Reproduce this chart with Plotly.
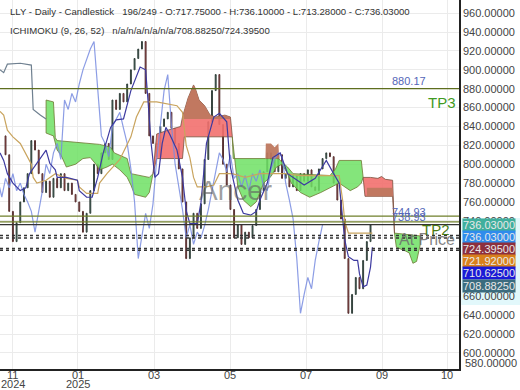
import plotly.graph_objects as go

# ---------------- data (bar index on x, price on y) ----------------
CANDLE_X = list(range(3, 203, 2))
CLOSE = [810, 750, 718, 738, 760, 775, 790, 825, 815, 790,
         770, 782, 765, 785, 775, 790, 772, 780, 768, 760,
         750, 728, 748, 772, 800, 790, 812, 822, 805, 868,
         858, 875, 866, 885, 900, 912, 922, 930, 875, 830,
         822, 808, 840, 848, 855, 838, 822, 795, 760, 700,
         722, 748, 732, 758, 805, 845, 878, 895, 842, 800,
         778, 752, 722, 736, 715, 728, 722, 735, 752, 772,
         792, 812, 805, 792, 810, 785, 790, 776, 788, 772,
         790, 782, 794, 776, 772, 795, 806, 812, 808, 780,
         762, 742, 700, 642, 662, 680, 668, 698, 718, 736]
FIRST_OPEN = 830

TENKAN_X = [0, 2, 4, 7, 11, 14, 16, 20, 22, 25, 27, 30, 31, 36, 42, 43, 47, 50, 53, 56,
            60, 63, 67, 71, 76, 79, 80, 82, 84, 86, 88, 90, 92, 96, 99, 101, 103, 107, 109, 112,
            116, 119, 123, 125, 129, 132, 136, 139, 141, 145, 148, 152, 156, 160, 165, 171, 177, 181, 184, 187,
            189, 192, 194, 195, 197, 199, 201, 202]
TENKAN_Y = [812, 804, 790, 780, 772, 775, 790, 801, 807, 815, 801, 794, 786, 786, 783, 772, 765, 765, 786, 812,
            839, 847, 848, 878, 903, 900, 875, 822, 786, 790, 822, 839, 832, 815, 786, 751, 737, 737, 759, 822,
            850, 854, 845, 797, 762, 748, 746, 750, 762, 780, 807, 812, 790, 785, 778, 785, 804, 790, 780, 720,
            702, 698, 698, 684, 670, 672, 691, 712]

KIJUN_X = [0, 2, 4, 7, 11, 15, 17, 18, 20, 25, 30, 36, 42, 43, 47, 53, 54, 58, 65, 71,
           74, 78, 85, 96, 99, 101, 103, 105, 107, 112, 116, 119, 126, 133, 141, 149, 155, 163, 184, 186,
           187, 189, 202]
KIJUN_Y = [856, 852, 836, 829, 822, 807, 800, 786, 780, 783, 790, 785, 783, 776, 769, 769, 780, 790, 805, 829,
           850, 866, 866, 862, 855, 820, 807, 786, 776, 776, 778, 790, 790, 786, 790, 790, 790, 788, 788, 760,
           740, 727, 727]

GRAY_X = [0, 2, 4, 11, 17, 18, 22, 25]
GRAY_Y = [900, 897, 906, 907, 905, 858, 852, 848]

CHIKOU_SHIFT = 26

# cloud segments: (top x, top y, bottom x, bottom y)
CLOUD_GREEN = [
    ([25, 29, 30, 31, 54, 60, 62, 69, 71, 81, 83],
     [868, 866, 828, 825, 821, 818, 812, 806, 790, 786, 790],
     [25, 29, 31, 33, 36, 41, 45, 49, 52, 54, 58, 61, 65, 69, 71, 73, 79, 81, 83],
     [833, 830, 815, 810, 797, 800, 806, 807, 800, 794, 797, 800, 794, 786, 778, 768, 765, 770, 790]),
    ([126, 126.5, 144, 151, 152, 156, 159, 179, 182, 184, 196, 197],
     [829, 806, 806, 806, 804, 797, 790, 788, 795, 804, 804, 786],
     [126, 129, 132, 136, 139, 143, 147, 150, 153, 156, 158, 163, 168, 174, 179, 184, 190, 194, 196, 197],
     [829, 776, 762, 755, 760, 780, 787, 797, 800, 790, 780, 770, 765, 770, 775, 780, 772, 776, 780, 786]),
    ([214, 228],
     [727, 724],
     [214, 215, 220, 222, 224, 226, 228],
     [727, 712, 708, 706, 695, 697, 715]),
]
CLOUD_RED = [
    ([83, 85, 91, 95, 98, 99, 102, 105, 106, 108, 111, 114, 117, 122, 125, 126],
     [790, 832, 836, 838, 840, 850, 870, 884, 880, 868, 862, 852, 850, 852, 850, 830],
     [83, 85, 99, 100, 126],
     [790, 806, 806, 829, 829]),
    ([197, 201, 205, 207, 209, 213, 214],
     [786, 786, 785, 787, 784, 783, 727],
     [197, 198, 213, 214],
     [786, 766, 766, 727]),
]
CLOUD_BROWN = [
    ([99, 102, 105, 106, 108, 111, 114, 117, 122, 125],
     [850, 870, 884, 880, 868, 862, 852, 850, 852, 850],
     [99, 125], [848, 848]),
    ([144, 144.2, 147, 149, 151, 151.5],
     [806, 822, 822, 818, 822, 806],
     [144, 151.5], [806, 806]),
    ([199, 213], [775, 775], [199, 213], [766, 766]),
]

TP3 = 880.17
TP2 = 744.93
LEVEL_B = 738.93
AT_PRICE = 736.03
DOTTED = [724.395, 721.92, 710.625, 708.8825]

RIGHT_LABELS = [("736.03000", 736.03, "#3faf9d"),
                ("736.03000", 736.03, "#2f8cec"),
                ("724.39500", 724.395, "#8c2f3e"),
                ("721.92000", 721.92, "#d8801c"),
                ("710.62500", 710.625, "#1a1ad6"),
                ("708.88250", 708.8825, "#3b6c7e")]

Y_TICKS = [600, 620, 640, 660, 740, 760, 780, 800, 820, 840, 860, 880, 900, 920, 940, 960]
X_TICKS = [7, 42.3, 83.6, 124.8, 166, 207.3, 242.5]
X_TICKTEXT = ["11", "01", "03", "05", "07", "09", "10"]
YEAR_LABELS = [(7, "2024"), (42.3, "2025")]

HEADER1 = "LLY - Daily - Candlestick   196/249 - O:717.75000 - H:736.10000 - L:713.28000 - C:736.03000"
HEADER2 = "ICHIMOKU (9, 26, 52)   n/a/n/a/n/a/n/a/708.88250/724.39500"

X_RANGE = [0, 249]
Y_RANGE = [583, 974]

# ---------------- figure ----------------
FONT = "Liberation Sans, Arial, sans-serif"
PLOT_H = 369
fig = go.Figure()


def poly(seg, fill, line):
    tx, ty, bx, by = seg
    xs = list(tx) + list(reversed(bx)) + [tx[0]]
    ys = list(ty) + list(reversed(by)) + [ty[0]]
    fig.add_trace(go.Scatter(x=xs, y=ys, fill="toself", fillcolor=fill, mode="lines",
                             line=dict(color=line, width=1), hoverinfo="skip", showlegend=False))


for seg in CLOUD_GREEN:
    poly(seg, "rgba(110,225,100,0.85)", "rgba(110,120,50,0.8)")
for seg in CLOUD_RED:
    poly(seg, "rgba(242,112,110,0.9)", "rgba(120,80,60,0.8)")
for seg in CLOUD_BROWN:
    poly(seg, "rgba(190,120,95,0.95)", "rgba(120,80,60,0.0)")

fig.add_trace(go.Scatter(x=GRAY_X, y=GRAY_Y, mode="lines",
                         line=dict(color="#6f8090", width=1.2), hoverinfo="skip", showlegend=False))
fig.add_trace(go.Scatter(x=[x - CHIKOU_SHIFT for x in CANDLE_X], y=CLOSE, mode="lines",
                         line=dict(color="rgba(120,140,225,0.85)", width=1.2),
                         hoverinfo="skip", showlegend=False))
fig.add_trace(go.Scatter(x=KIJUN_X, y=KIJUN_Y, mode="lines",
                         line=dict(color="#c9a45e", width=1.2), hoverinfo="skip", showlegend=False))
fig.add_trace(go.Scatter(x=TENKAN_X, y=TENKAN_Y, mode="lines",
                         line=dict(color="#3d3aa0", width=1.2), hoverinfo="skip", showlegend=False))

opens = [FIRST_OPEN] + CLOSE[:-1]
highs = [max(o, c) for o, c in zip(opens, CLOSE)]
lows = [min(o, c) for o, c in zip(opens, CLOSE)]
fig.add_trace(go.Candlestick(x=CANDLE_X, open=opens, high=highs, low=lows, close=CLOSE,
                             increasing=dict(line=dict(color="#34403c", width=1), fillcolor="#3b7f66"),
                             decreasing=dict(line=dict(color="#553232", width=1), fillcolor="#d04848"),
                             whiskerwidth=0, showlegend=False, hoverinfo="skip"))

shapes = []
for v, col, w in [(TP3, "#5e6e1e", 1.3), (TP2, "#6f7f2a", 1.2), (LEVEL_B, "#6f7f2a", 1.2),
                  (AT_PRICE, "#333333", 1.2)]:
    shapes.append(dict(type="line", xref="paper", x0=0, x1=1, yref="y", y0=v, y1=v,
                       line=dict(color=col, width=w)))
for v in DOTTED:
    shapes.append(dict(type="line", xref="paper", x0=0, x1=1, yref="y", y0=v, y1=v,
                       line=dict(color="#333333", width=1.5, dash="dot")))
# light band behind the price labels
shapes.append(dict(type="rect", xref="paper", x0=1.005, x1=1.14, yref="paper",
                   y0=1 - 305 / PLOT_H, y1=1 - 218 / PLOT_H, fillcolor="#e2f8fb",
                   line=dict(width=0), layer="below"))

ann = []
ann.append(dict(text=HEADER1, xref="paper", yref="paper", x=8 / 459, y=1 - 12 / PLOT_H,
                xanchor="left", yanchor="middle", showarrow=False,
                font=dict(family=FONT, size=9.6, color="#333")))
ann.append(dict(text=HEADER2, xref="paper", yref="paper", x=8 / 459, y=1 - 30 / PLOT_H,
                xanchor="left", yanchor="middle", showarrow=False,
                font=dict(family=FONT, size=9.6, color="#333")))
ann.append(dict(text="Ancer", xref="x", yref="y", x=128, y=772, showarrow=False,
                font=dict(family=FONT, size=28, color="rgba(95,95,95,0.6)")))
ann.append(dict(text="880.17", xref="x", yref="y", x=222, y=TP3, yanchor="bottom",
                showarrow=False, font=dict(family=FONT, size=11, color="#5566b8")))
ann.append(dict(text="744.93", xref="x", yref="y", x=222, y=TP2, yanchor="bottom", yshift=-4,
                showarrow=False, font=dict(family=FONT, size=11, color="#5566b8")))
ann.append(dict(text="738.93", xref="x", yref="y", x=222, y=LEVEL_B, yanchor="bottom", yshift=-3,
                showarrow=False, font=dict(family=FONT, size=11, color="#5566b8")))
ann.append(dict(text="At Price", xref="paper", yref="y", x=0.995, y=AT_PRICE, xanchor="right",
                yanchor="top", yshift=-4, showarrow=False,
                font=dict(family=FONT, size=16, color="rgba(110,110,110,0.85)")))
ann.append(dict(text="TP3", xref="paper", yref="y", x=0.997, y=TP3, xanchor="right", yanchor="top",
                yshift=-3, showarrow=False, font=dict(family=FONT, size=15, color="#3f9a22")))
ann.append(dict(text="TP2", xref="paper", yref="y", x=0.985, y=TP2, xanchor="right", yanchor="top",
                yshift=-3, showarrow=False, font=dict(family=FONT, size=15, color="#4a7a12")))

# stacked price labels on the right axis
prev_px = None
for txt, v, col in RIGHT_LABELS:
    nat = (Y_RANGE[1] - v) / (Y_RANGE[1] - Y_RANGE[0]) * PLOT_H
    px = nat if prev_px is None else max(nat, prev_px + 12.2)
    prev_px = px
    ann.append(dict(text=txt, xref="paper", yref="y", x=1, y=v, xanchor="left", yanchor="middle",
                    xshift=3, yshift=-(px - nat), showarrow=False, bgcolor=col, width=52, height=12,
                    borderpad=0, font=dict(family=FONT, size=11, color="#e8e8e8")))
ann.append(dict(text="580.00000", xref="paper", yref="paper", x=1, y=1 - 363 / PLOT_H,
                xanchor="left", yanchor="middle", xshift=4, showarrow=False,
                font=dict(family=FONT, size=11, color="#444")))
# month / year labels under the x axis
for xv, mt in zip(X_TICKS, X_TICKTEXT):
    ann.append(dict(text=mt, xref="x", yref="paper", x=xv, y=-(375 - PLOT_H) / PLOT_H,
                    xanchor="center", yanchor="middle", showarrow=False,
                    font=dict(family=FONT, size=11, color="#444")))
for xv, yr in YEAR_LABELS:
    ann.append(dict(text=yr, xref="x", yref="paper", x=xv, y=-(384 - PLOT_H) / PLOT_H,
                    xanchor="center", yanchor="middle", showarrow=False,
                    font=dict(family=FONT, size=11, color="#444")))

fig.update_layout(
    width=520, height=390, margin=dict(l=0, r=61, t=0, b=21),
    paper_bgcolor="white", plot_bgcolor="white", showlegend=False,
    shapes=shapes, annotations=ann, boxgap=0.65,
    xaxis=dict(range=X_RANGE, tickvals=X_TICKS, showticklabels=False, showgrid=True,
               gridcolor="#ebebeb", showline=True, linecolor="#222", linewidth=1.5,
               ticks="", zeroline=False, rangeslider=dict(visible=False), automargin=False),
    yaxis=dict(range=Y_RANGE, side="right", tickvals=Y_TICKS, tickformat=".5f", showgrid=True,
               gridcolor="#ebebeb", showline=True, linecolor="#222", linewidth=1.5, ticks="",
               zeroline=False, automargin=False,
               tickfont=dict(family=FONT, size=11, color="#444")),
)

fig.write_html("out.html")
